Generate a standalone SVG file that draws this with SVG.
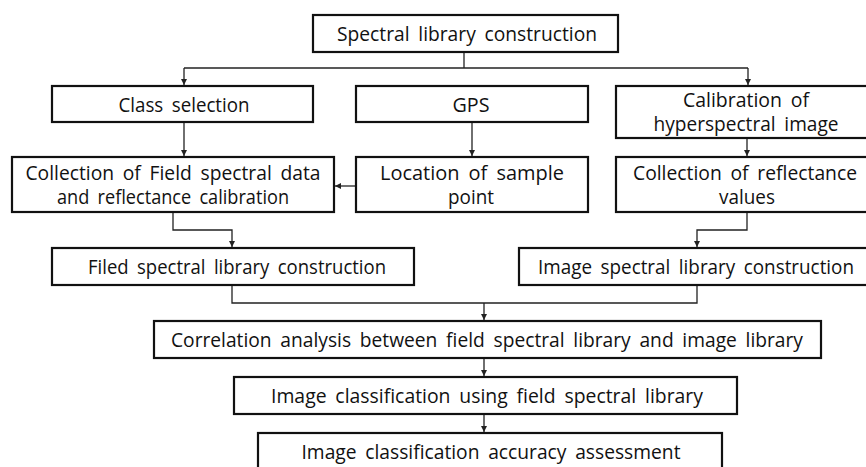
<svg xmlns="http://www.w3.org/2000/svg" width="866" height="467" viewBox="0 0 866 467">
  <style>
    .box { fill: #ffffff; stroke: #111111; stroke-width: 2.2; }
    .lbl { font-family: "Open Sans", "Liberation Sans", sans-serif; font-size: 20.5px; fill: #111111; text-anchor: middle; word-spacing: 4px; }
    .wire { fill: none; stroke: #222222; stroke-width: 1.3; }
  </style>
  <defs>
    <marker id="arrow" viewBox="0 0 10 10" refX="10" refY="5" markerWidth="6" markerHeight="6" markerUnits="userSpaceOnUse" orient="auto">
      <path d="M0,0 L10,5 L0,10 z" fill="#222222"/>
    </marker>
  </defs>
  <rect width="866" height="467" fill="#ffffff"/>

  <g id="connectors">
    <polyline class="wire" points="464,52 464,68"/>
    <polyline class="wire" points="184,68 748,68"/>
    <line class="wire" x1="184" y1="68" x2="184" y2="85" marker-end="url(#arrow)"/>
    <line class="wire" x1="748" y1="68" x2="748" y2="85" marker-end="url(#arrow)"/>
    <line class="wire" x1="184" y1="122" x2="184" y2="156" marker-end="url(#arrow)"/>
    <line class="wire" x1="472" y1="122" x2="472" y2="156" marker-end="url(#arrow)"/>
    <line class="wire" x1="747" y1="138" x2="747" y2="156" marker-end="url(#arrow)"/>
    <line class="wire" x1="356" y1="186" x2="335" y2="186" marker-end="url(#arrow)"/>
    <polyline class="wire" points="173,212 173,230 232,230 232,247" marker-end="url(#arrow)"/>
    <polyline class="wire" points="747,212 747,230 697,230 697,247" marker-end="url(#arrow)"/>
    <polyline class="wire" points="232,285 232,303 697,303 697,285"/>
    <line class="wire" x1="484" y1="303" x2="484" y2="320" marker-end="url(#arrow)"/>
    <line class="wire" x1="484" y1="358" x2="484" y2="376" marker-end="url(#arrow)"/>
    <line class="wire" x1="484" y1="414" x2="484" y2="432" marker-end="url(#arrow)"/>
  </g>

  <g id="spectral-library-construction">
    <rect class="box" x="313" y="15" width="305" height="37"/>
    <text class="lbl" x="467" y="41" textLength="260" lengthAdjust="spacingAndGlyphs">Spectral library construction</text>
  </g>

  <g id="class-selection">
    <rect class="box" x="52" y="86" width="261" height="36"/>
    <text class="lbl" x="184" y="112" textLength="131" lengthAdjust="spacingAndGlyphs">Class selection</text>
  </g>

  <g id="gps">
    <rect class="box" x="356" y="86" width="232" height="36"/>
    <text class="lbl" x="471" y="112" textLength="37" lengthAdjust="spacingAndGlyphs">GPS</text>
  </g>

  <g id="calibration-hyperspectral">
    <rect class="box" x="616" y="86" width="260" height="52"/>
    <text class="lbl" x="746" y="107" textLength="126" lengthAdjust="spacingAndGlyphs">Calibration of</text>
    <text class="lbl" x="746" y="131" textLength="185" lengthAdjust="spacingAndGlyphs">hyperspectral image</text>
  </g>

  <g id="field-spectral-collection">
    <rect class="box" x="12" y="157" width="322" height="55"/>
    <text class="lbl" x="173" y="180" textLength="295" lengthAdjust="spacingAndGlyphs">Collection of Field spectral data</text>
    <text class="lbl" x="173" y="204" textLength="232" lengthAdjust="spacingAndGlyphs">and reflectance calibration</text>
  </g>

  <g id="sample-point-location">
    <rect class="box" x="356" y="157" width="232" height="55"/>
    <text class="lbl" x="472" y="180" textLength="184" lengthAdjust="spacingAndGlyphs">Location of sample</text>
    <text class="lbl" x="471" y="204" textLength="46" lengthAdjust="spacingAndGlyphs">point</text>
  </g>

  <g id="reflectance-collection">
    <rect class="box" x="616" y="157" width="260" height="55"/>
    <text class="lbl" x="745" y="180" textLength="224" lengthAdjust="spacingAndGlyphs">Collection of reflectance</text>
    <text class="lbl" x="747" y="204" textLength="56" lengthAdjust="spacingAndGlyphs">values</text>
  </g>

  <g id="field-library-construction">
    <rect class="box" x="52" y="248" width="362" height="37"/>
    <text class="lbl" x="237" y="274" textLength="298" lengthAdjust="spacingAndGlyphs">Filed spectral library construction</text>
  </g>

  <g id="image-library-construction">
    <rect class="box" x="519" y="248" width="360" height="37"/>
    <text class="lbl" x="696" y="274" textLength="316" lengthAdjust="spacingAndGlyphs">Image spectral library construction</text>
  </g>

  <g id="correlation-analysis">
    <rect class="box" x="154" y="321" width="667" height="37"/>
    <text class="lbl" x="487" y="347" textLength="632" lengthAdjust="spacingAndGlyphs">Correlation analysis between field spectral library and image library</text>
  </g>

  <g id="image-classification">
    <rect class="box" x="234" y="377" width="503" height="37"/>
    <text class="lbl" x="487" y="403" textLength="432" lengthAdjust="spacingAndGlyphs">Image classification using field spectral library</text>
  </g>

  <g id="accuracy-assessment">
    <rect class="box" x="258" y="433" width="464" height="50"/>
    <text class="lbl" x="491" y="459" textLength="379" lengthAdjust="spacingAndGlyphs">Image classification accuracy assessment</text>
  </g>
</svg>
